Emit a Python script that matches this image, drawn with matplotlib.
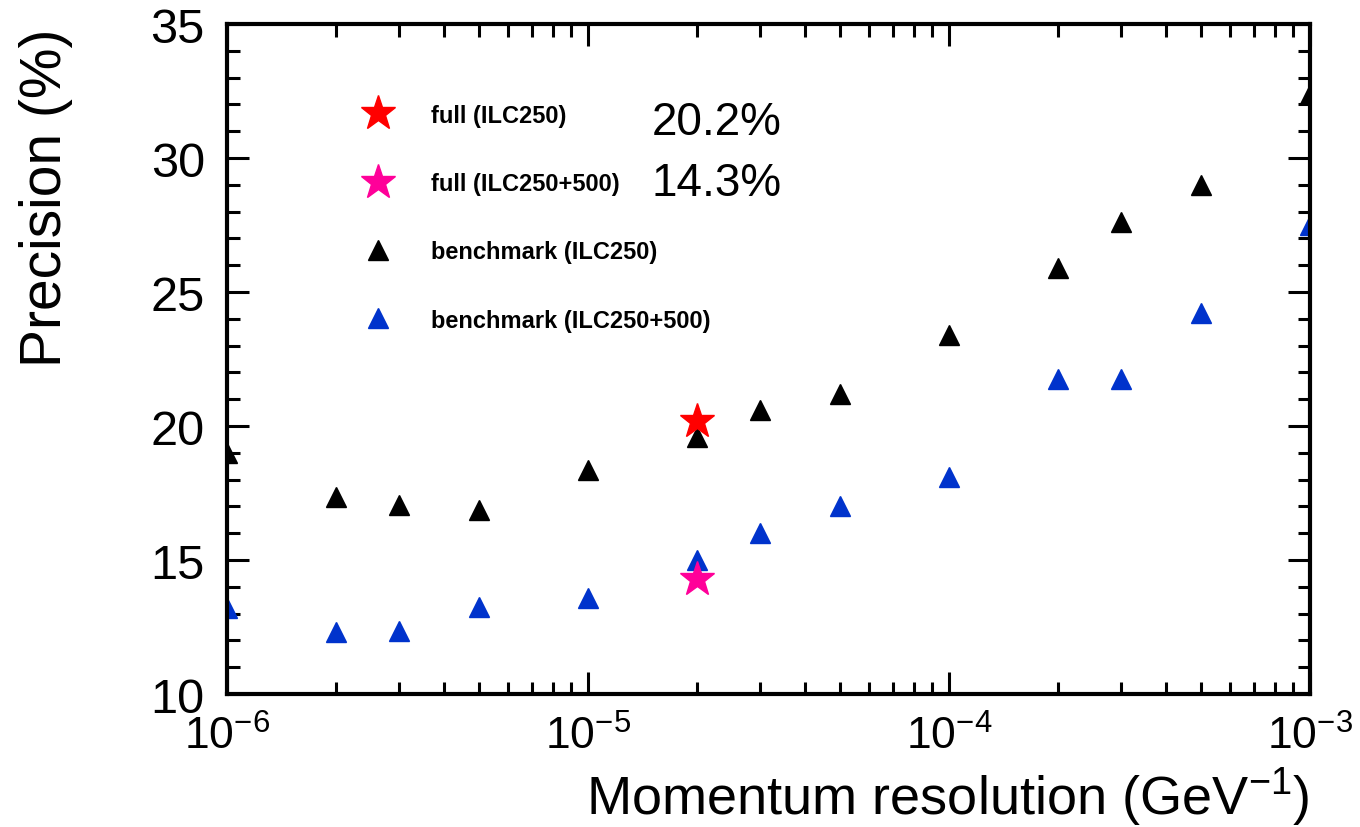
import numpy as np
import matplotlib
matplotlib.use("Agg")
import matplotlib.pyplot as plt
from matplotlib.ticker import LogLocator, MultipleLocator, FixedLocator
from matplotlib.lines import Line2D

plt.rcParams['font.family'] = ['Liberation Sans', 'DejaVu Sans']
plt.rcParams['mathtext.fontset'] = 'custom'
plt.rcParams['mathtext.rm'] = 'Liberation Sans'
plt.rcParams['mathtext.it'] = 'Liberation Sans'

# momentum resolution (GeV^-1)
resolution = [1e-6, 2e-6, 3e-6, 5e-6, 1e-5, 2e-5, 3e-5, 5e-5,
              1e-4, 2e-4, 3e-4, 5e-4, 1e-3]
bench_250 = [19.0, 17.35, 17.05, 16.85, 18.35, 19.6, 20.6, 21.2,
             23.4, 25.9, 27.6, 29.0, 32.4]
bench_250_500 = [13.2, 12.3, 12.35, 13.25, 13.6, 15.0, 16.0, 17.0,
                 18.1, 21.75, 21.75, 24.2, 27.5]
full_x = [2e-5]
full_250 = [20.2]
full_250_500 = [14.3]
full_labels = ["20.2%", "14.3%"]

fig = plt.figure(figsize=(13.6, 8.28), dpi=100)
ax = fig.add_axes([0.1669, 0.1606, 0.7963, 0.8092])

ax.plot(resolution, bench_250, linestyle='none', marker='^', color='black',
        markersize=15)
ax.plot(resolution, bench_250_500, linestyle='none', marker='^', color='#0033cc',
        markersize=15)
ax.plot(full_x, full_250, linestyle='none', marker='*', color='#ff0000',
        markersize=26)
ax.plot(full_x, full_250_500, linestyle='none', marker='*', color='#ff0099',
        markersize=26)

ax.set_xscale('log')
ax.set_xlim(1e-6, 1e-3)
ax.set_ylim(10, 35)
for s in ax.spines.values():
    s.set_linewidth(3)

ax.xaxis.set_major_locator(FixedLocator([1e-6, 1e-5, 1e-4, 1e-3]))
ax.xaxis.set_minor_locator(LogLocator(base=10, subs=np.arange(2, 10)))
ax.xaxis.set_minor_formatter(plt.NullFormatter())
ax.set_xticklabels([r'$10^{-6}$', r'$10^{-5}$', r'$10^{-4}$', r'$10^{-3}$'])
ax.yaxis.set_major_locator(MultipleLocator(5))
ax.yaxis.set_minor_locator(MultipleLocator(1))

ax.tick_params(which='both', direction='in', top=True, right=True, width=2.2)
ax.tick_params(which='major', length=16)
ax.tick_params(which='minor', length=9)
ax.tick_params(axis='x', which='major', pad=15, labelsize=32)
ax.tick_params(axis='y', which='major', pad=16, labelsize=35)

ax.set_xlabel(r'Momentum resolution (GeV$^{-1}$)', fontsize=39, loc='right')
ax.xaxis.set_label_coords(1.0, -0.106)
ax.set_ylabel('Precision (%)', fontsize=41, loc='top')
ax.yaxis.set_label_coords(-0.142, 0.995)

handles = [
    Line2D([], [], linestyle='none', marker='*', color='#ff0000', markersize=26),
    Line2D([], [], linestyle='none', marker='*', color='#ff0099', markersize=26),
    Line2D([], [], linestyle='none', marker='^', color='black', markersize=14),
    Line2D([], [], linestyle='none', marker='^', color='#0033cc', markersize=14),
]
labels = ['full (ILC250)', 'full (ILC250+500)', 'benchmark (ILC250)',
          'benchmark (ILC250+500)']
ax.legend(handles, labels, loc='upper left', bbox_to_anchor=(0.1034, 0.913),
          frameon=False, prop={'weight': 'bold', 'size': 17},
          labelspacing=1.92, handlelength=1.5, handletextpad=1.5)

for i, txt in enumerate(full_labels):
    ax.text(0.3924, 0.853 - i * 0.09, txt, transform=ax.transAxes,
            fontsize=33, va='center', ha='left')

fig.savefig('out.png', dpi=100)
